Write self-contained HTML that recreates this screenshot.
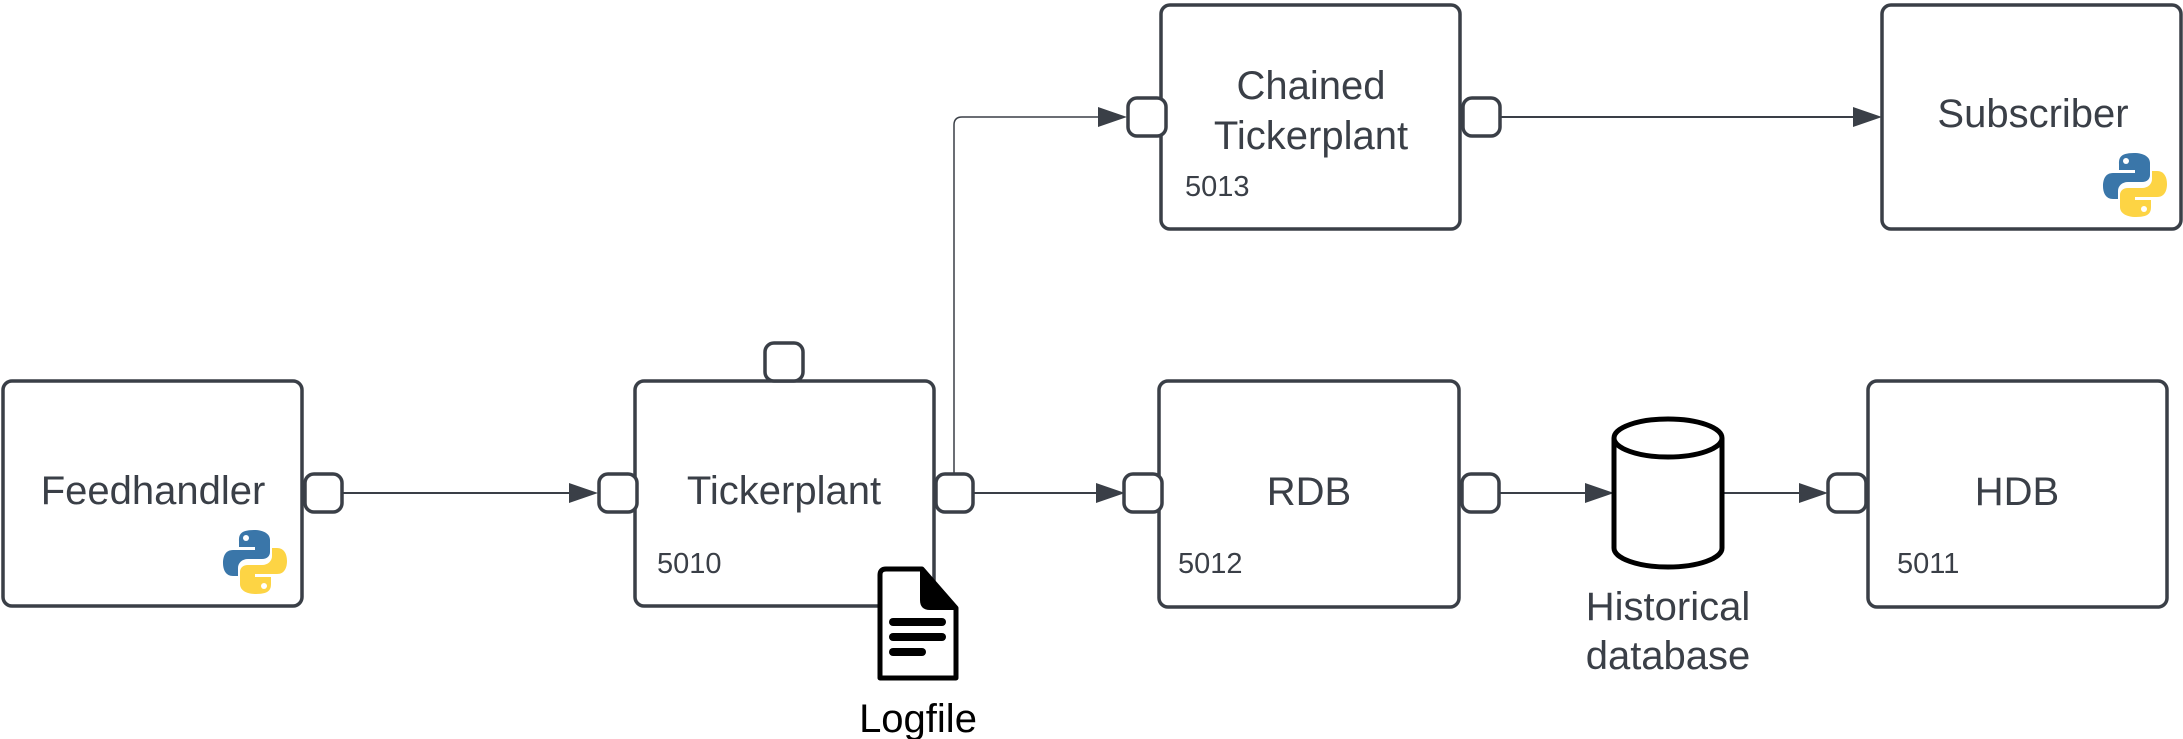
<!DOCTYPE html>
<html><head><meta charset="utf-8"><style>
html,body{margin:0;padding:0;background:#fff;}
svg{display:block;}
text{font-family:"Liberation Sans",sans-serif;fill:#3a3f47;}
</style></head><body>
<svg width="2183" height="739" viewBox="0 0 2183 739" xmlns="http://www.w3.org/2000/svg">
<defs>
<g id="py">
<path d="M31 0 C16 0 16 6 16 11 L16 17 L32 17 L32 20 L10 20 C2 20 0 27 0 33 C0 40 3 46 10 46 L15 46 L15 38 C15 33 19 29 25 29 L39 29 C44 29 47 26 47 22 L47 10 C47 4 41 0 31 0 Z" fill="#3a76a9"/>
<circle cx="23" cy="8" r="3" fill="#fff"/>
<g transform="rotate(180 32 32)">
<path d="M31 0 C16 0 16 6 16 11 L16 17 L32 17 L32 20 L10 20 C2 20 0 27 0 33 C0 40 3 46 10 46 L15 46 L15 38 C15 33 19 29 25 29 L39 29 C44 29 47 26 47 22 L47 10 C47 4 41 0 31 0 Z" fill="#fdd444"/>
<circle cx="23" cy="8" r="3" fill="#fff"/>
</g>
</g>
</defs>
<g fill="none" stroke="#3a3f47" stroke-width="3.5">
<rect x="3" y="381" width="299" height="225" rx="9"/>
<rect x="635" y="381" width="299" height="225" rx="9"/>
<rect x="1161" y="5" width="299" height="224" rx="9"/>
<rect x="1882" y="5" width="299" height="224" rx="9"/>
<rect x="1159" y="381" width="300" height="226" rx="9"/>
<rect x="1868" y="381" width="299" height="226" rx="9"/>
</g>
<g fill="none" stroke="#3a3f47" stroke-width="2">
<line x1="342" y1="493" x2="575" y2="493"/>
<line x1="974" y1="493" x2="1100" y2="493"/>
<line x1="1499" y1="493" x2="1590" y2="493"/>
<line x1="1722" y1="493" x2="1805" y2="493"/>
<line x1="1501" y1="117" x2="1860" y2="117"/>
<path d="M954 473 L954 125 Q954 117 962 117 L1105 117" stroke-width="1.5"/>
</g>
<g fill="#3a3f47">
<polygon points="598,493 569,483 569,503"/>
<polygon points="1125,493 1096,483 1096,503"/>
<polygon points="1614,493 1585,483 1585,503"/>
<polygon points="1828,493 1799,483 1799,503"/>
<polygon points="1127,117 1098,107 1098,127"/>
<polygon points="1882,117 1853,107 1853,127"/>
</g>
<g fill="#fff" stroke="#3a3f47" stroke-width="3.5">
<rect x="305" y="474" width="37" height="38" rx="9"/>
<rect x="599" y="474" width="38" height="38" rx="9"/>
<rect x="936" y="474" width="37" height="38" rx="9"/>
<rect x="765" y="343" width="38" height="38" rx="9"/>
<rect x="1124" y="474" width="38" height="38" rx="9"/>
<rect x="1462" y="474" width="37" height="38" rx="9"/>
<rect x="1828" y="474" width="38" height="38" rx="9"/>
<rect x="1128" y="98" width="38" height="38" rx="9"/>
<rect x="1463" y="98" width="37" height="38" rx="9"/>
</g>
<g fill="#fff" stroke="#000" stroke-width="5">
<path d="M1614 438 L1614 548 A54 19 0 0 0 1722 548 L1722 438"/>
<ellipse cx="1668" cy="438" rx="54" ry="19"/>
</g>
<path d="M886 569 L922 569 L956 608 L956 678 L880 678 L880 575 Q880 569 886 569 Z" fill="#fff" stroke="#000" stroke-width="5" stroke-linejoin="round"/>
<path d="M922 569 L922 600 Q922 608 930 608 L956 608 Z" fill="#000" stroke="#000" stroke-width="4" stroke-linejoin="round"/>
<g stroke="#000" stroke-width="8" stroke-linecap="round">
<line x1="893" y1="622" x2="942" y2="622"/>
<line x1="893" y1="637" x2="942" y2="637"/>
<line x1="893" y1="652" x2="922" y2="652"/>
</g>
<use href="#py" transform="translate(223,530)"/>
<use href="#py" transform="translate(2103,153)"/>
<g font-size="40" text-anchor="middle">
<text x="153" y="504">Feedhandler</text>
<text x="784" y="504">Tickerplant</text>
<text x="1311" y="99">Chained</text>
<text x="1311" y="149">Tickerplant</text>
<text x="2033" y="127">Subscriber</text>
<text x="1309" y="505">RDB</text>
<text x="2017" y="505">HDB</text>
<text x="1668" y="620">Historical</text>
<text x="1668" y="669">database</text>
<text x="918" y="732" style="fill:#000">Logfile</text>
</g>
<g font-size="29">
<text x="657" y="573">5010</text>
<text x="1185" y="196">5013</text>
<text x="1178" y="573">5012</text>
<text x="1897" y="573">5011</text>
</g>
</svg>
</body></html>
